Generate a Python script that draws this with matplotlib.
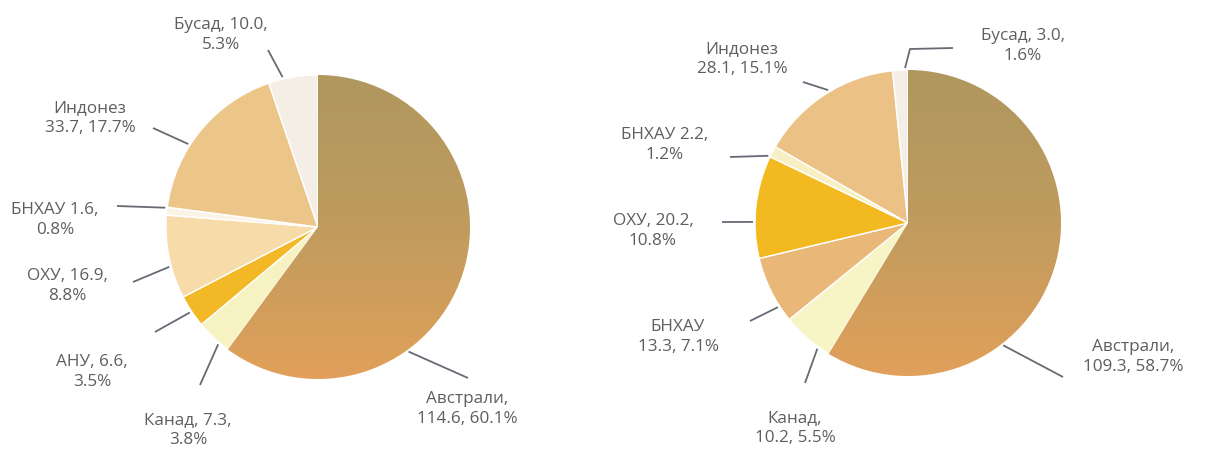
import numpy as np
import matplotlib.pyplot as plt
from matplotlib.colors import LinearSegmentedColormap

# ---- data ----
left_vals = [114.6, 7.3, 6.6, 16.9, 1.6, 33.7, 10.0]
left_labels = ['Австрали,\n114.6, 60.1%', 'Канад, 7.3,\n3.8%', 'АНУ, 6.6,\n3.5%',
               'ОХУ, 16.9,\n8.8%', 'БНХАУ 1.6,\n0.8%', 'Индонез\n33.7, 17.7%',
               'Бусад, 10.0,\n5.3%']
left_colors = ['#c99d5f', '#f6f2c2', '#f2b825', '#f7dcaa', '#fbf4e6', '#ecc589', '#f4eee4']

right_vals = [109.3, 10.2, 13.3, 20.2, 2.2, 28.1, 3.0]
right_labels = ['Австрали,\n109.3, 58.7%', 'Канад,\n10.2, 5.5%', 'БНХАУ\n13.3, 7.1%',
                'ОХУ, 20.2,\n10.8%', 'БНХАУ 2.2,\n1.2%', 'Индонез\n28.1, 15.1%',
                'Бусад, 3.0,\n1.6%']
right_colors = ['#c99d5f', '#f7f4c6', '#e9b878', '#f3b920', '#f8f0c2', '#ecc185', '#f4eee6']

# ---- layout (pixels, y down) ----
W, H = 1209, 451
left_center, left_r = (318, 227), 152
right_center, right_r = (908, 223), 153

# text centre, leader outer end, leader tip angle (deg, ccw from +x)
left_text_xy = [(467, 409), (188, 430), (92, 372), (67, 286), (55, 220), (90, 118), (221, 35)]
left_outer = [(468, 378), (200, 385), (155, 332), (133, 282), (117, 206), (153, 128), (268, 50)]
left_tip_ang = [-54, 229.6, 213.7, 195, 172.8, 147.4, 103.3]

right_text_xy = [(1133, 357), (795, 428), (678, 337), (653, 231), (665, 145), (742, 59), (1023, 46)]
right_outer = [(1063, 377), (805, 383), (750, 321), (722, 222), (730, 157), (803, 82), (953, 48)]
right_tip_ang = [-52.1, 234.2, 212.9, 179.6, 154.3, 121, 91.1]
right_knee = {6: (910, 49)}

grad_cmap = LinearSegmentedColormap.from_list(
    'au', [(0, '#b0975f'), (0.45, '#bd9b5e'), (1, '#e1a05a')])
text_color = '#5e5e5e'
line_color = '#666b73'

fig = plt.figure(figsize=(W / 100, H / 100), dpi=100)
ax = fig.add_axes([0, 0, 1, 1])


def draw_pie(vals, colors, labels, center, r, text_xy, outer, tip_ang, knees={}):
    cx, cy = center
    # y axis is inverted, so data angles run the other way round
    wedges, _ = ax.pie(vals, colors=colors, center=center, radius=r,
                       startangle=-90, counterclock=True, frame=True,
                       wedgeprops=dict(edgecolor='white', linewidth=1.0))
    grad = np.linspace(0, 1, 256).reshape(-1, 1)
    im = ax.imshow(grad, cmap=grad_cmap, aspect='auto', origin='upper',
                   extent=(cx - r, cx + r, cy + r, cy - r), zorder=wedges[0].get_zorder() + 0.1)
    im.set_clip_path(wedges[0])
    for i, lab in enumerate(labels):
        a = np.deg2rad(tip_ang[i])
        tip = (cx + (r + 2) * np.cos(a), cy - (r + 2) * np.sin(a))
        pts = [tip]
        if i in knees:
            pts.append(knees[i])
        pts.append(outer[i])
        xs, ys = zip(*pts)
        ax.plot(xs, ys, color=line_color, lw=1.3, solid_capstyle='butt')
        ax.text(text_xy[i][0], text_xy[i][1], lab, ha='center', va='center',
                multialignment='center', fontsize=12.3, color=text_color,
                family='Open Sans', linespacing=1.3)


draw_pie(left_vals, left_colors, left_labels, left_center, left_r,
         left_text_xy, left_outer, left_tip_ang)
draw_pie(right_vals, right_colors, right_labels, right_center, right_r,
         right_text_xy, right_outer, right_tip_ang, right_knee)

ax.set_xlim(0, W)
ax.set_ylim(H, 0)
ax.set_aspect('auto')
ax.axis('off')

fig.savefig('out.png', dpi=100, facecolor='white')
